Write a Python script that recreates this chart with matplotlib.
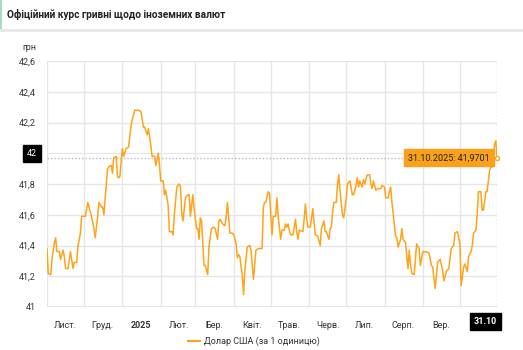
import matplotlib
matplotlib.use("Agg")
import matplotlib.pyplot as plt
import matplotlib.transforms as mtransforms
from matplotlib.patches import Rectangle
import pandas as pd

# days since 2024-11-01 and official UAH/USD rate
days = [0, 1, 3, 4, 6, 7, 8, 10, 11, 13, 14, 15, 17, 19, 21, 22, 24, 25, 27, 28,
        31, 33, 35, 36, 38, 39, 41, 42, 44, 45, 46, 48, 49, 51, 52, 53, 54, 56, 57, 58,
        59, 60, 61, 62, 64, 66, 68, 69, 71, 74, 76, 78, 79, 81, 82, 84, 85, 87, 88, 90,
        91, 92, 94, 95, 96, 98, 99, 101, 102, 103, 105, 107, 108, 109, 110, 112, 114, 115, 116, 118,
        119, 121, 122, 123, 124, 125, 127, 128, 130, 131, 133, 135, 136, 138, 139, 140, 142, 144, 145, 146,
        147, 148, 150, 151, 153, 154, 155, 156, 158, 159, 160, 162, 164, 165, 167, 169, 171, 174, 175, 176,
        177, 179, 180, 182, 183, 185, 186, 187, 189, 190, 192, 193, 194, 195, 196, 197, 199, 201, 202, 203,
        204, 207, 208, 209, 210, 211, 213, 214, 215, 217, 219, 221, 222, 224, 225, 226, 228, 229, 230, 231,
        232, 234, 235, 236, 237, 239, 240, 242, 243, 245, 247, 248, 250, 251, 252, 253, 255, 256, 257, 258,
        259, 261, 262, 263, 264, 266, 268, 270, 271, 273, 274, 276, 277, 278, 279, 280, 282, 283, 284, 286,
        287, 288, 290, 291, 292, 293, 294, 295, 297, 299, 301, 302, 304, 307, 309, 311, 312, 314, 316, 318,
        320, 321, 323, 325, 327, 329, 330, 332, 334, 335, 337, 338, 340, 341, 343, 344, 345, 347, 348, 349,
        351, 352, 353, 355, 356, 358, 359, 360, 361, 362, 363, 364]
rate = [41.38, 41.22, 41.21, 41.31, 41.42, 41.45, 41.36, 41.36, 41.31, 41.37, 41.33, 41.25, 41.25, 41.36, 41.25, 41.29, 41.29, 41.39, 41.48, 41.59,
        41.59, 41.68, 41.62, 41.59, 41.51, 41.45, 41.59, 41.68, 41.65, 41.65, 41.60, 41.80, 41.90, 41.92, 41.92, 41.87, 41.97, 41.98, 41.85, 41.84,
        41.85, 41.95, 42.03, 41.98, 42.03, 42.04, 42.18, 42.22, 42.28, 42.28, 42.27, 42.17, 42.17, 42.12, 42.16, 42.05, 41.98, 41.98, 41.92, 42.00,
        41.92, 41.82, 41.82, 41.73, 41.76, 41.66, 41.49, 41.49, 41.47, 41.60, 41.78, 41.80, 41.78, 41.61, 41.56, 41.71, 41.73, 41.73, 41.59, 41.73,
        41.64, 41.51, 41.51, 41.44, 41.58, 41.56, 41.27, 41.27, 41.21, 41.39, 41.51, 41.52, 41.51, 41.44, 41.56, 41.57, 41.54, 41.53, 41.59, 41.68,
        41.57, 41.48, 41.48, 41.47, 41.41, 41.32, 41.34, 41.33, 41.20, 41.08, 41.24, 41.39, 41.40, 41.37, 41.18, 41.37, 41.38, 41.38, 41.65, 41.68,
        41.68, 41.75, 41.74, 41.47, 41.59, 41.59, 41.71, 41.59, 41.44, 41.50, 41.50, 41.54, 41.52, 41.54, 41.50, 41.47, 41.47, 41.57, 41.49, 41.44,
        41.50, 41.49, 41.57, 41.67, 41.58, 41.52, 41.52, 41.58, 41.64, 41.47, 41.46, 41.40, 41.51, 41.56, 41.49, 41.49, 41.44, 41.51, 41.52, 41.61,
        41.68, 41.68, 41.80, 41.86, 41.76, 41.60, 41.58, 41.70, 41.80, 41.82, 41.73, 41.73, 41.79, 41.84, 41.78, 41.82, 41.78, 41.83, 41.80, 41.83,
        41.86, 41.86, 41.80, 41.77, 41.82, 41.76, 41.77, 41.77, 41.79, 41.78, 41.71, 41.71, 41.75, 41.78, 41.68, 41.61, 41.46, 41.45, 41.39, 41.44,
        41.51, 41.44, 41.42, 41.33, 41.25, 41.37, 41.28, 41.22, 41.21, 41.41, 41.38, 41.27, 41.36, 41.36, 41.35, 41.27, 41.26, 41.12, 41.29, 41.31,
        41.24, 41.17, 41.23, 41.25, 41.38, 41.40, 41.48, 41.49, 41.41, 41.14, 41.26, 41.28, 41.23, 41.33, 41.36, 41.40, 41.48, 41.50, 41.61, 41.75,
        41.75, 41.63, 41.63, 41.75, 41.75, 41.89, 41.91, 41.91, 41.95, 42.06, 42.08, 41.9701]

month_labels = ["Лист.", "Груд.", "2025", "Лют.", "Бер.", "Квіт.", "Трав.", "Черв.", "Лип.", "Серп.", "Вер."]
y_ticks = [41, 41.2, 41.4, 41.6, 41.8, 42, 42.2, 42.4, 42.6]

start = pd.Timestamp("2024-11-01")
dates = start + pd.to_timedelta(days, unit="D")
last_date = dates[-1]
last_rate = rate[-1]

plt.rcParams["font.family"] = ["Roboto", "DejaVu Sans"]
ORANGE = "#FFA31A"
GRID = "#e6e6e6"
TXT = "#333333"

fig = plt.figure(figsize=(5.23, 3.5), dpi=100)
fig.patch.set_facecolor("white")

# header
fig.text(7 / 523, 1 - 15 / 350, "Офіційний курс гривні щодо іноземних валют",
         fontsize=7.3, fontweight="bold", color="#222222", va="center", ha="left")
fig.add_artist(Rectangle((0, 1 - 32 / 350), 1, 3 / 350, transform=fig.transFigure,
                         facecolor="#e8e8e8", edgecolor="none"))
fig.add_artist(Rectangle((0, 1 - 29 / 350), 2 / 523, 29 / 350, transform=fig.transFigure,
                         facecolor="#a8dcc0", edgecolor="none"))

ax = fig.add_axes([47 / 523, 43 / 350, 450 / 523, 246 / 350])
ax.plot(dates, rate, color=ORANGE, lw=1.1, zorder=3)

ax.set_xlim(start, last_date)
ax.set_ylim(41, 42.6)

# month gridlines at month starts, labels in the middle
month_starts = pd.date_range("2024-11-01", "2025-10-01", freq="MS")
ax.set_xticks(month_starts)
ax.set_xticklabels([])
ax.set_xticks(month_starts[:len(month_labels)] + pd.Timedelta(days=15), minor=True)
ax.set_xticklabels(month_labels, minor=True)
for lbl in ax.get_xticklabels(minor=True):
    if lbl.get_text() == "2025":
        lbl.set_fontweight("bold")
ax.tick_params(axis="x", which="both", length=0, labelsize=6.5, colors=TXT, pad=10)

ax.set_yticks(y_ticks)
ax.set_yticklabels(["" if v == 42 else f"{v:g}".replace(".", ",") for v in y_ticks])
ax.tick_params(axis="y", length=0, labelsize=6.5, colors=TXT, pad=8)

ax.grid(True, which="major", color=GRID, lw=1)
for s in ax.spines.values():
    s.set_visible(False)
ax.axhline(41, color=GRID, lw=1.5, zorder=1)

# crosshairs
ax.axhline(last_rate, color="#bbbbbb", ls=(0, (1, 1.5)), lw=1, zorder=2)
ax.axvline(last_date, color="#bbbbbb", ls=(0, (1, 1.5)), lw=1, zorder=2)

blend_y = mtransforms.blended_transform_factory(ax.transAxes, ax.transData)
ax.text(-0.022, 42, "42", transform=blend_y, ha="right", va="center", fontsize=6.5,
        color="white", clip_on=False,
        bbox=dict(boxstyle="square,pad=0.45", facecolor="black", edgecolor="black"))

blend_x = mtransforms.blended_transform_factory(ax.transData, ax.transAxes)
ax.text(last_date, -0.058, last_date.strftime("%d.%m"), transform=blend_x, ha="right", va="center",
        fontsize=6.5, fontweight="bold", color="white", clip_on=False,
        bbox=dict(boxstyle="square,pad=0.45", facecolor="black", edgecolor="black"))

tip = f"{last_date:%d.%m.%Y}: " + f"{last_rate:.4f}".replace(".", ",")
ax.annotate(tip, xy=(last_date, last_rate), xytext=(-5, 0), textcoords="offset points",
            ha="right", va="center", fontsize=6.5, color="#222222", zorder=5,
            bbox=dict(boxstyle="square,pad=0.45", facecolor="#F9A11B", edgecolor="#F9A11B"))
ax.plot([last_date], [last_rate], marker="o", ms=3, mfc="white", mec=ORANGE, mew=1, zorder=4, clip_on=False)

fig.text(22 / 523, 1 - 47 / 350, "грн", fontsize=6.5, color=TXT, va="center", ha="left")

# legend
fig.legend([plt.Line2D([], [], color=ORANGE, lw=1.5)], ["Долар США (за 1 одиницю)"],
           loc="center", bbox_to_anchor=(254 / 523, 1 - 341 / 350), frameon=False,
           fontsize=6.5, handlelength=1.3, handletextpad=0.4, labelcolor=TXT)

fig.savefig("out.png", dpi=100, facecolor="white")
